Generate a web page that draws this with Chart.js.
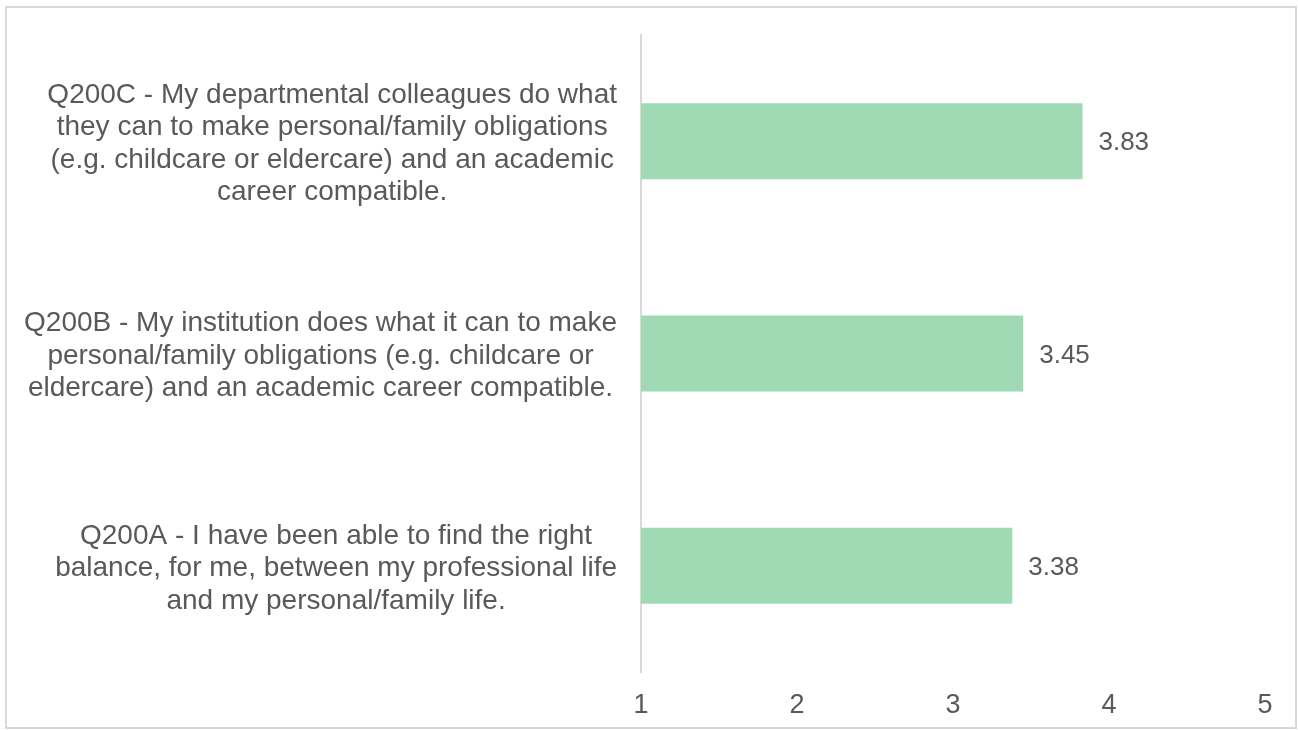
<!DOCTYPE html>
<html>
<head>
<meta charset="utf-8">
<script src="https://cdn.jsdelivr.net/npm/chart.js@4"></script>
<style>
  html, body { margin: 0; padding: 0; background: #fff; }
  #wrap { position: relative; width: 1298px; height: 730px; }
  #frame { position: absolute; left: 5px; top: 6px; width: 1288px; height: 719px; border: 2px solid #d9d9d9; pointer-events: none; }
  canvas { position: absolute; left: 0; top: 0; }
</style>
</head>
<body>
<div id="wrap">
  <canvas id="chart" width="1298" height="730"></canvas>
  <div id="frame"></div>
</div>
<script>
  const questionLabels = [
    ['Q200C - My departmental colleagues do what', 'they can to make personal/family obligations', '(e.g. childcare or eldercare) and an academic', 'career compatible.'],
    ['Q200B - My institution does what it can to make', 'personal/family obligations (e.g. childcare or', 'eldercare) and an academic career compatible.'],
    ['Q200A - I have been able to find the right', 'balance, for me, between my professional life', 'and my personal/family life.']
  ];
  const meanScores = [3.83, 3.45, 3.38];
  const axisTicks = [1, 2, 3, 4, 5];

  const textColor = '#595959';
  const fontFamily = '"Liberation Sans", Arial, sans-serif';

  // draws the value next to the end of each bar
  const valueLabels = {
    id: 'valueLabels',
    afterDatasetsDraw(chart) {
      const { ctx } = chart;
      const meta = chart.getDatasetMeta(0);
      ctx.save();
      ctx.font = '26px ' + fontFamily;
      ctx.fillStyle = textColor;
      ctx.textAlign = 'left';
      ctx.textBaseline = 'middle';
      meta.data.forEach((bar, i) => {
        ctx.fillText(meanScores[i].toFixed(2), bar.x + 16, bar.y + 2);
      });
      ctx.restore();
    }
  };

  // category labels: each block sits against the axis, its lines centred in the block
  const categoryLabels = {
    id: 'categoryLabels',
    afterDraw(chart) {
      const { ctx } = chart;
      const yScale = chart.scales.y;
      const lineGap = 32.5;
      const rightEdge = yScale.right - 24;
      ctx.save();
      ctx.font = '28px ' + fontFamily;
      ctx.fillStyle = textColor;
      ctx.textAlign = 'center';
      ctx.textBaseline = 'middle';
      questionLabels.forEach((lines, i) => {
        const widest = Math.max(...lines.map(l => ctx.measureText(l).width));
        const cx = rightEdge - widest / 2;
        const cy = yScale.getPixelForTick(i) + 2.5;
        lines.forEach((line, j) => {
          ctx.fillText(line, cx, cy + (j - (lines.length - 1) / 2) * lineGap);
        });
      });
      ctx.restore();
    }
  };

  function noEdgePadding(scale) {
    scale.paddingTop = 0;
    scale.paddingBottom = 0;
    scale.paddingLeft = 0;
    scale.paddingRight = 0;
  }

  const ctx = document.getElementById('chart').getContext('2d');
  new Chart(ctx, {
    type: 'bar',
    data: {
      labels: questionLabels,
      datasets: [{
        data: meanScores,
        backgroundColor: '#a0dab4',
        borderWidth: 0,
        barPercentage: 0.358,
        categoryPercentage: 1
      }]
    },
    options: {
      indexAxis: 'y',
      responsive: false,
      animation: false,
      layout: { padding: { left: 0, top: 35, right: 33, bottom: 0 } },
      plugins: {
        legend: { display: false },
        tooltip: { enabled: false }
      },
      scales: {
        x: {
          min: 1,
          max: 5,
          afterBuildTicks(scale) {
            scale.ticks = axisTicks.map(v => ({ value: v }));
          },
          afterFit(scale) { scale.height = 58; noEdgePadding(scale); },
          grid: { display: false, drawTicks: false },
          border: { display: false },
          ticks: {
            padding: 17,
            color: textColor,
            font: { family: fontFamily, size: 27 }
          }
        },
        y: {
          afterFit(scale) { scale.width = 641; noEdgePadding(scale); },
          grid: { display: false, drawTicks: false },
          border: { display: true, color: '#d9d9d9', width: 2 },
          ticks: { display: false }
        }
      }
    },
    plugins: [valueLabels, categoryLabels]
  });
</script>
</body>
</html>
